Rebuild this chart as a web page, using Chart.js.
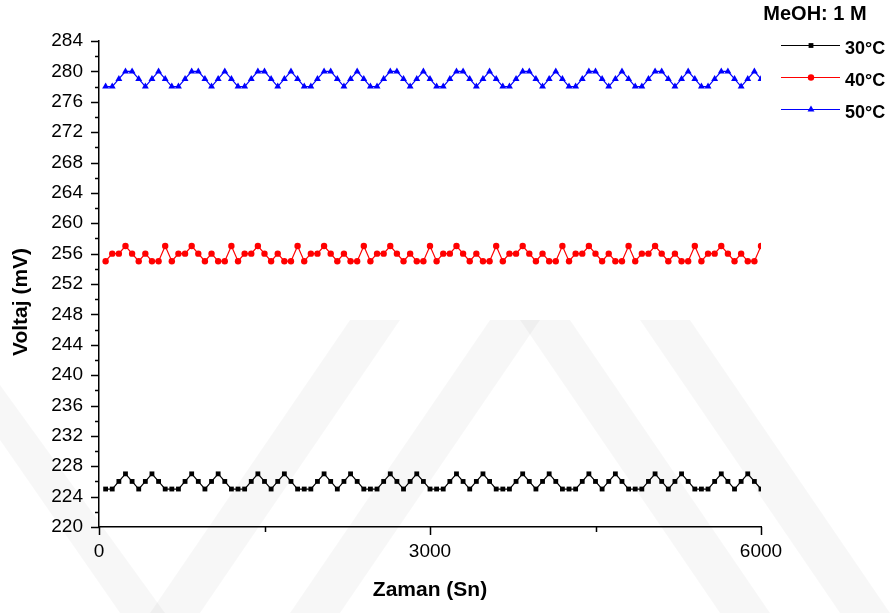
<!DOCTYPE html>
<html>
<head>
<meta charset="utf-8">
<script src="https://cdn.jsdelivr.net/npm/chart.js@4.4.1/dist/chart.umd.min.js"></script>
<style>
  html, body { margin: 0; padding: 0; background: #fff; }
  #wrap { width: 890px; height: 613px; }
</style>
</head>
<body>
<div id="wrap"><canvas id="chart" width="890" height="613"></canvas></div>
<script>
// time (s)
const times = [
  60, 120, 180, 240, 300, 360, 420, 480, 540, 600,
  660, 720, 780, 840, 900, 960, 1020, 1080, 1140, 1200,
  1260, 1320, 1380, 1440, 1500, 1560, 1620, 1680, 1740, 1800,
  1860, 1920, 1980, 2040, 2100, 2160, 2220, 2280, 2340, 2400,
  2460, 2520, 2580, 2640, 2700, 2760, 2820, 2880, 2940, 3000,
  3060, 3120, 3180, 3240, 3300, 3360, 3420, 3480, 3540, 3600,
  3660, 3720, 3780, 3840, 3900, 3960, 4020, 4080, 4140, 4200,
  4260, 4320, 4380, 4440, 4500, 4560, 4620, 4680, 4740, 4800,
  4860, 4920, 4980, 5040, 5100, 5160, 5220, 5280, 5340, 5400,
  5460, 5520, 5580, 5640, 5700, 5760, 5820, 5880, 5940, 6000
];

// voltage (mV)
const volt30 = [
  225, 225, 226, 227, 226, 225, 226, 227, 226, 225,
  225, 225, 226, 227, 226, 225, 226, 227, 226, 225,
  225, 225, 226, 227, 226, 225, 226, 227, 226, 225,
  225, 225, 226, 227, 226, 225, 226, 227, 226, 225,
  225, 225, 226, 227, 226, 225, 226, 227, 226, 225,
  225, 225, 226, 227, 226, 225, 226, 227, 226, 225,
  225, 225, 226, 227, 226, 225, 226, 227, 226, 225,
  225, 225, 226, 227, 226, 225, 226, 227, 226, 225,
  225, 225, 226, 227, 226, 225, 226, 227, 226, 225,
  225, 225, 226, 227, 226, 225, 226, 227, 226, 225
];
const volt40 = [
  255, 256, 256, 257, 256, 255, 256, 255, 255, 257,
  255, 256, 256, 257, 256, 255, 256, 255, 255, 257,
  255, 256, 256, 257, 256, 255, 256, 255, 255, 257,
  255, 256, 256, 257, 256, 255, 256, 255, 255, 257,
  255, 256, 256, 257, 256, 255, 256, 255, 255, 257,
  255, 256, 256, 257, 256, 255, 256, 255, 255, 257,
  255, 256, 256, 257, 256, 255, 256, 255, 255, 257,
  255, 256, 256, 257, 256, 255, 256, 255, 255, 257,
  255, 256, 256, 257, 256, 255, 256, 255, 255, 257,
  255, 256, 256, 257, 256, 255, 256, 255, 255, 257
];
const volt50 = [
  278, 278, 279, 280, 280, 279, 278, 279, 280, 279,
  278, 278, 279, 280, 280, 279, 278, 279, 280, 279,
  278, 278, 279, 280, 280, 279, 278, 279, 280, 279,
  278, 278, 279, 280, 280, 279, 278, 279, 280, 279,
  278, 278, 279, 280, 280, 279, 278, 279, 280, 279,
  278, 278, 279, 280, 280, 279, 278, 279, 280, 279,
  278, 278, 279, 280, 280, 279, 278, 279, 280, 279,
  278, 278, 279, 280, 280, 279, 278, 279, 280, 279,
  278, 278, 279, 280, 280, 279, 278, 279, 280, 279,
  278, 278, 279, 280, 280, 279, 278, 279, 280, 279
];

const seriesLabels = ['30°C', '40°C', '50°C'];
const legendTitle = 'MeOH: 1 M';
const xTicks = [0, 3000, 6000];
const yTicks = [220, 224, 228, 232, 236, 240, 244, 248, 252, 256, 260, 264, 268, 272, 276, 280, 284];

const FONT = '"Liberation Sans", Arial, Helvetica, sans-serif';

function toPoints(vals) {
  return times.map((t, i) => ({ x: t, y: vals[i] }));
}

// faint diagonal watermark behind the plot
const watermark = {
  id: 'watermark',
  beforeDraw(chart) {
    const ctx = chart.ctx;
    ctx.save();
    ctx.fillStyle = '#fff';
    ctx.fillRect(0, 0, chart.width, chart.height);
    ctx.fillStyle = 'rgba(0,0,0,0.03)';
    const bands = [
      [[0, 385], [0, 440], [120, 613], [165, 613]],
      [[150, 613], [200, 613], [400, 320], [350, 320]],
      [[290, 613], [340, 613], [540, 320], [490, 320]],
      [[520, 320], [570, 320], [770, 613], [720, 613]],
      [[640, 320], [690, 320], [890, 613], [840, 613]]
    ];
    bands.forEach(b => {
      ctx.beginPath();
      ctx.moveTo(b[0][0], b[0][1]);
      for (let i = 1; i < b.length; i++) ctx.lineTo(b[i][0], b[i][1]);
      ctx.closePath();
      ctx.fill();
    });
    ctx.restore();
  }
};

// ticks (major + minor), y title and legend
const decor = {
  id: 'decor',
  afterDraw(chart) {
    const ctx = chart.ctx;
    const xs = chart.scales.x, ys = chart.scales.y;
    const area = chart.chartArea;
    ctx.save();
    ctx.strokeStyle = '#000';
    ctx.lineWidth = 1.5;

    ctx.beginPath();
    yTicks.forEach((v, i) => {
      const py = Math.round(ys.getPixelForValue(v)) + 0.5;
      ctx.moveTo(area.left - 8, py);
      ctx.lineTo(area.left, py);
      if (i < yTicks.length - 1) {
        const pm = Math.round(ys.getPixelForValue((v + yTicks[i + 1]) / 2)) + 0.5;
        ctx.moveTo(area.left - 4, pm);
        ctx.lineTo(area.left, pm);
      }
    });
    xTicks.forEach((v, i) => {
      const px = Math.round(xs.getPixelForValue(v)) + 0.5;
      ctx.moveTo(px, area.bottom);
      ctx.lineTo(px, area.bottom + 8);
      if (i < xTicks.length - 1) {
        const pm = Math.round(xs.getPixelForValue((v + xTicks[i + 1]) / 2)) + 0.5;
        ctx.moveTo(pm, area.bottom);
        ctx.lineTo(pm, area.bottom + 5);
      }
    });
    ctx.stroke();

    // y axis title
    ctx.save();
    ctx.translate(21, 302);
    ctx.rotate(-Math.PI / 2);
    ctx.fillStyle = '#000';
    ctx.font = 'bold 21px ' + FONT;
    ctx.textAlign = 'center';
    ctx.textBaseline = 'middle';
    ctx.fillText('Voltaj (mV)', 0, 0);
    ctx.restore();

    // legend
    ctx.fillStyle = '#000';
    ctx.font = 'bold 20px ' + FONT;
    ctx.textAlign = 'center';
    ctx.textBaseline = 'middle';
    ctx.fillText(legendTitle, 815, 14);

    const rows = [45, 77, 109];
    chart.data.datasets.forEach((ds, i) => {
      const y = rows[i];
      ctx.strokeStyle = ds.borderColor;
      ctx.lineWidth = 1.2;
      ctx.beginPath();
      ctx.moveTo(781, y + 0.5);
      ctx.lineTo(840, y + 0.5);
      ctx.stroke();
      ctx.fillStyle = ds.pointBackgroundColor;
      Chart.helpers.drawPoint(ctx, {
        pointStyle: ds.pointStyle, radius: ds.pointRadius, rotation: 0, borderWidth: 0
      }, 811, y + 0.5);
      ctx.fillStyle = '#000';
      ctx.font = 'bold 18px ' + FONT;
      ctx.textAlign = 'left';
      ctx.fillText(ds.label, 845, y + 4);
    });
    ctx.restore();
  }
};

function series(label, vals, color, style, radius) {
  return {
    label: label,
    data: toPoints(vals),
    borderColor: color,
    backgroundColor: color,
    pointBackgroundColor: color,
    pointBorderColor: color,
    pointBorderWidth: 0,
    pointStyle: style,
    pointRadius: radius,
    borderWidth: 1.2,
    tension: 0
  };
}

new Chart(document.getElementById('chart').getContext('2d'), {
  type: 'line',
  data: {
    datasets: [
      series(seriesLabels[0], volt30, '#000000', 'rect', 3.4),
      series(seriesLabels[1], volt40, '#ff0000', 'circle', 3.2),
      series(seriesLabels[2], volt50, '#0000ff', 'triangle', 4)
    ]
  },
  options: {
    responsive: false,
    animation: false,
    devicePixelRatio: 1,
    layout: { padding: { top: 41, right: 129, left: 0, bottom: 0 } },
    plugins: {
      legend: { display: false },
      tooltip: { enabled: false }
    },
    scales: {
      x: {
        type: 'linear',
        min: 0,
        max: 6000,
        afterBuildTicks: s => { s.ticks = xTicks.map(v => ({ value: v })); },
        afterFit: s => { s.height = 86; },
        grid: { display: false, drawTicks: false, tickLength: 0 },
        border: { display: true, color: '#000', width: 1.5 },
        ticks: {
          color: '#000', padding: 13, maxRotation: 0,
          font: { family: FONT, size: 19 },
          callback: v => String(v)
        },
        title: {
          display: true,
          text: 'Zaman (Sn)',
          color: '#000',
          font: { family: FONT, size: 21, weight: 'bold' },
          padding: { top: 0, bottom: 10 }
        }
      },
      y: {
        min: 220,
        max: 284,
        afterBuildTicks: s => { s.ticks = yTicks.map(v => ({ value: v })); },
        afterFit: s => { s.width = 99; },
        grid: { display: false, drawTicks: false, tickLength: 0 },
        border: { display: true, color: '#000', width: 1.5 },
        ticks: {
          color: '#000', padding: 16,
          font: { family: FONT, size: 19 },
          callback: v => String(v)
        }
      }
    }
  },
  plugins: [watermark, decor]
});
</script>
</body>
</html>
